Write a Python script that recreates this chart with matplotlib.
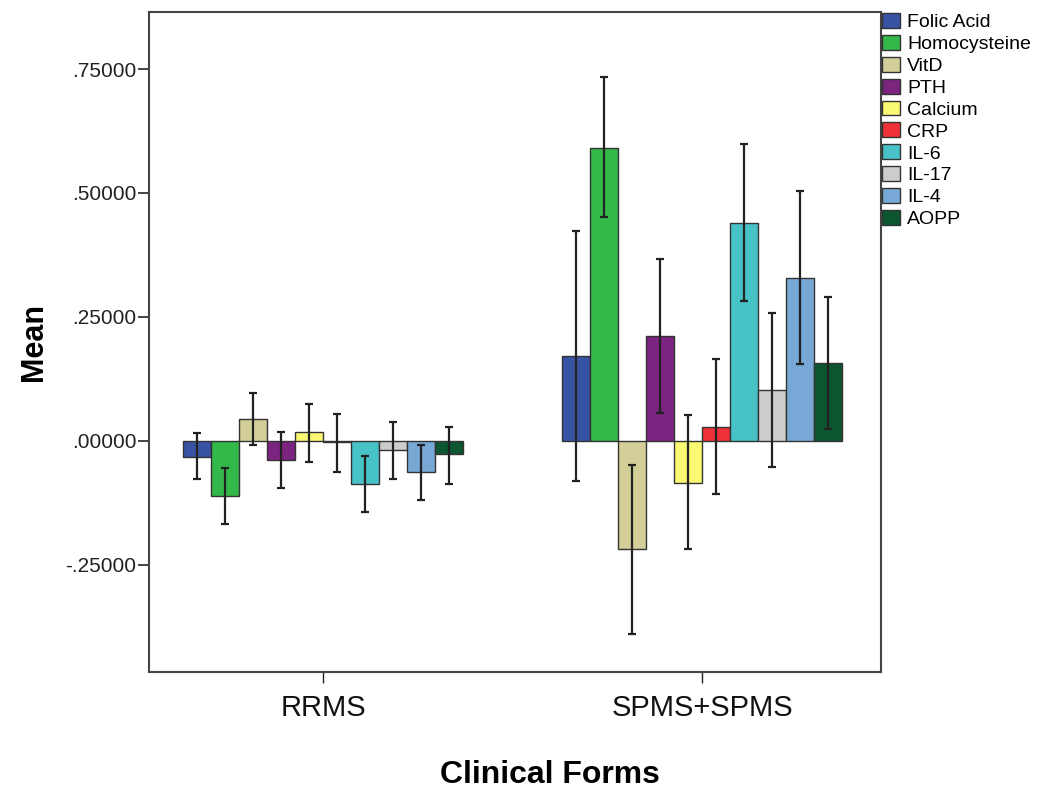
import numpy as np
import matplotlib
matplotlib.use("Agg")
import matplotlib.pyplot as plt
from matplotlib.ticker import FuncFormatter

plt.rcParams['font.family'] = ['Liberation Sans', 'DejaVu Sans']

# --- data (means and 95% CI bounds) ---
groups = ["RRMS", "SPMS+SPMS"]
markers = ["Folic Acid", "Homocysteine", "VitD", "PTH", "Calcium",
           "CRP", "IL-6", "IL-17", "IL-4", "AOPP"]

rrms_mean = [-0.032, -0.111, 0.044, -0.038, 0.017, -0.003, -0.087, -0.018, -0.062, -0.026]
rrms_low = [-0.077, -0.167, -0.009, -0.094, -0.042, -0.063, -0.143, -0.077, -0.119, -0.086]
rrms_high = [0.016, -0.054, 0.096, 0.017, 0.074, 0.054, -0.030, 0.038, -0.009, 0.029]

spms_mean = [0.172, 0.590, -0.218, 0.212, -0.084, 0.029, 0.439, 0.103, 0.328, 0.157]
spms_low = [-0.080, 0.451, -0.389, 0.057, -0.218, -0.107, 0.282, -0.053, 0.155, 0.024]
spms_high = [0.423, 0.733, -0.048, 0.367, 0.052, 0.165, 0.599, 0.257, 0.504, 0.290]

colors = ["#3953a4", "#33b84a", "#d4cf98", "#7b2480", "#fbf873",
          "#ee3237", "#47c2c6", "#cccccc", "#78a8d6", "#0b5530"]

yticks = [-0.25, 0.0, 0.25, 0.5, 0.75]

# --- plot ---
fig = plt.figure(figsize=(10.39, 7.90), dpi=100)
ax = fig.add_axes([0.1434, 0.1494, 0.7045, 0.8354])

means = np.array([rrms_mean, spms_mean])
lows = np.array([rrms_low, spms_low])
highs = np.array([rrms_high, spms_high])

x = np.arange(len(groups))
w = 0.0739
for i, name in enumerate(markers):
    pos = x + (i - 4.5) * w
    m = means[:, i]
    ax.bar(pos, m, width=w, color=colors[i], edgecolor="#333333",
           linewidth=1.0, label=name, zorder=2)
    ax.errorbar(pos, m, yerr=[m - lows[:, i], highs[:, i] - m], fmt="none",
                ecolor="#222222", elinewidth=1.6, capsize=3, capthick=1.6, zorder=3)

ax.set_xlim(-0.459, 1.472)
ax.set_ylim(-0.466, 0.865)
ax.set_yticks(yticks)
ax.yaxis.set_major_formatter(FuncFormatter(
    lambda v, p: f"{v:.5f}".replace("0.", ".", 1)))
ax.set_xticks(x)
ax.set_xticklabels(groups, fontsize=21)
ax.tick_params(axis="y", labelsize=15, length=8, width=1.2, pad=1, colors="#222222")
ax.tick_params(axis="x", length=8, width=1.0, pad=8, colors="#222222")
ax.tick_params(axis="x", labelcolor="#111111")

for s in ax.spines.values():
    s.set_color("#444444")
    s.set_linewidth(1.5)

ax.set_ylabel("Mean", fontsize=22, fontweight="bold")
ax.yaxis.set_label_coords(-0.137, 0.5)
ax.set_xlabel("Clinical Forms", fontsize=23, fontweight="bold")
ax.xaxis.set_label_coords(0.548, -0.133)

fig.legend(loc="upper left", bbox_to_anchor=(882 / 1039, 1 - 13 / 790),
           frameon=False, fontsize=14, handlelength=0.95, handleheight=0.8,
           handletextpad=0.35, labelspacing=0.19, borderpad=0, borderaxespad=0)

fig.savefig("out.png", dpi=100)
